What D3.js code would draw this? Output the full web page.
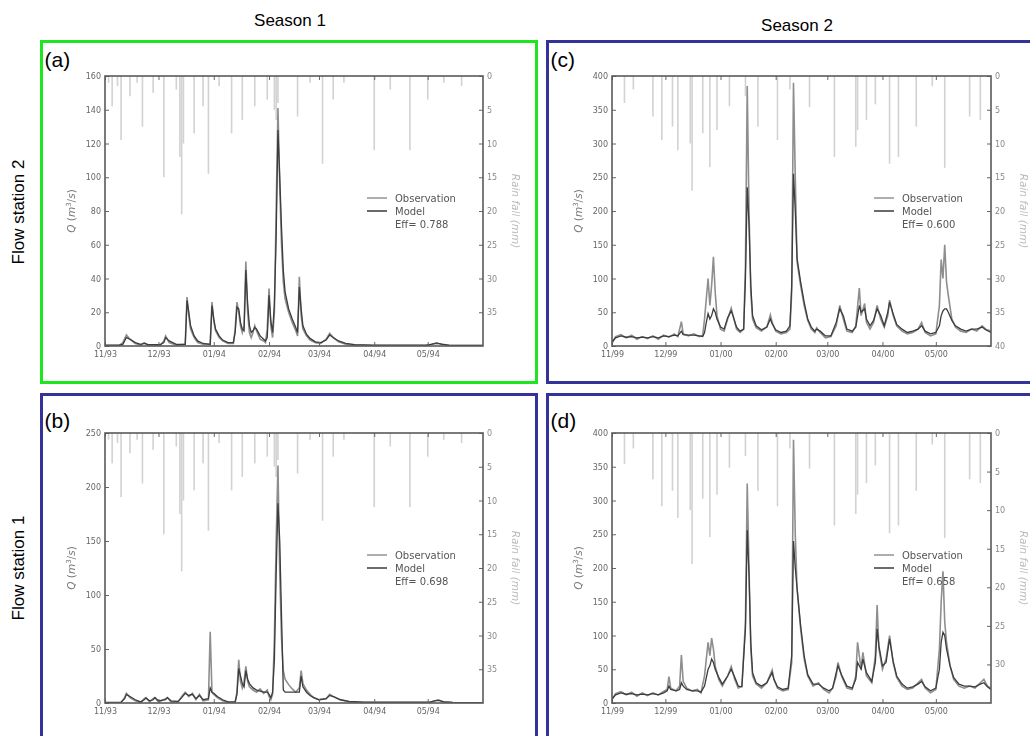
<!DOCTYPE html>
<html>
<head>
<meta charset="utf-8">
<script src="https://cdn.jsdelivr.net/npm/d3@7"></script>
<style>
  body { margin: 0; background: #fff; }
  svg { font-family: "Liberation Sans", Arial, sans-serif; }
</style>
</head>
<body>
<svg id="chart" width="1030" height="736"></svg>
<script>
// season date ranges
const season1Range = [new Date(1993, 10, 1), new Date(1994, 5, 1)];
const season2Range = [new Date(1999, 10, 1), new Date(2000, 5, 1)];

// rainfall, days after season start and mm
const rain1Day = [2, 4, 7, 9, 14, 18, 21, 27, 33, 40, 42, 43, 44, 50, 55, 58, 64, 71, 77, 84, 91, 95, 96, 97, 108, 115, 122, 128, 134, 151, 160, 171, 181, 190, 200];
const rain1Mm  = [1, 4.5, 1.5, 9.5, 3, 1, 7.5, 2.5, 15, 2, 12, 20.5, 10, 8.5, 4.5, 14.5, 1.5, 8.5, 6.5, 4.5, 3.5, 5, 6.5, 4, 6, 1, 13, 3.5, 1, 11, 2, 11, 3.5, 1, 1.5];
const rain2Day = [7, 12, 23, 28, 34, 37, 44, 45, 51, 55, 59, 66, 75, 82, 93, 100, 111, 125, 137, 138, 143, 148, 156, 161, 171, 180, 187, 201, 207];
const rain2Mm  = [4, 2, 6, 9.5, 7.5, 11, 10, 17, 8.5, 13.5, 8, 4.5, 3, 7.5, 9.5, 2, 4.6, 12, 10.5, 8, 6.5, 4.2, 13, 12, 7.5, 1.5, 13.6, 6, 6.5];

// (a) flow station 2, season 1
const aDay = [0, 8, 10, 12, 14, 17, 20, 22, 24, 31, 33, 34, 36, 40, 45, 46, 47, 48, 50, 52, 55, 59, 60, 61, 62, 64, 66, 69, 72, 73, 74, 75, 76, 77, 78, 79, 80, 81, 82, 83, 84, 85, 87, 89, 90, 91, 92, 93, 94, 95, 96, 97, 98, 99, 100, 101, 103, 105, 107, 108, 109, 110, 111, 113, 115, 118, 121, 124, 126, 128, 131, 135, 140, 150, 180, 183, 186, 189, 193, 212];
const aObs = [0.3, 0.3, 2, 6.5, 4, 1.5, 0.5, 2, 0.5, 0.5, 3, 6, 2, 0.5, 1, 29, 18, 10, 5, 2, 1, 1, 26, 15, 9, 5, 3, 1.5, 1.5, 10, 26, 20, 12, 8, 12, 50, 20, 8, 5, 8, 12, 9, 4, 3, 2, 10, 34, 12, 5, 20, 80, 141, 95, 60, 38, 28, 20, 14, 9, 6, 41, 18, 10, 6, 3.5, 2, 1.5, 4, 7.5, 5, 2.5, 1, 0.5, 0.3, 0.3, 1, 1.5, 1.2, 0.3, 0.3];
const aMod = [0.5, 0.5, 1, 5, 4, 2, 1, 1.5, 1, 0.8, 2, 5, 3, 1, 1, 27, 20, 12, 6, 3, 1.5, 1, 24, 16, 10, 6, 3.5, 2, 2, 8, 23, 22, 14, 10, 9, 45, 25, 12, 8, 9, 11, 10, 6, 4, 3, 5, 30, 15, 8, 25, 65, 128, 100, 70, 45, 32, 22, 16, 11, 8, 35, 22, 12, 7, 4.5, 2.5, 2, 3.5, 6.5, 5, 3, 1.5, 0.8, 0.5, 0.5, 1, 1.8, 1, 0.5, 0.3];

// (b) flow station 1, season 1
const bDay = [0, 9, 11, 12, 14, 17, 20, 22, 23, 25, 27, 28, 30, 34, 35, 37, 41, 43, 45, 47, 49, 51, 53, 55, 58, 59, 60, 61, 63, 66, 69, 73, 74, 75, 76, 77, 78, 79, 80, 81, 83, 85, 87, 89, 91, 92, 93, 94, 95, 96, 97, 98, 99, 100, 101, 103, 105, 107, 109, 110, 111, 113, 115, 117, 120, 124, 126, 128, 132, 137, 145, 182, 185, 187, 190, 195, 212];
const bObs = [0.3, 0.5, 5, 9, 5, 2, 0.5, 4, 5, 1, 4, 5, 1, 4, 5, 1, 1, 6, 10, 6, 9, 3, 8, 2, 3, 66, 10, 8, 5, 2, 0.5, 0.5, 10, 40, 20, 14, 20, 34, 20, 15, 12, 10, 13, 9, 12, 6, 3, 8, 60, 150, 220, 120, 60, 30, 22, 17, 13, 10, 14, 30, 18, 12, 8, 5, 3, 4, 8, 6, 3, 1, 0.5, 0.5, 2, 3, 1, 0.5, 0.3];
const bMod = [0.5, 0.8, 4, 8, 6, 3, 1, 3, 4.5, 2, 3, 5, 2, 3, 5, 2, 1.5, 5, 9, 7, 8, 4, 7, 3, 4, 14, 10, 9, 6, 3, 1, 1, 8, 32, 25, 18, 15, 30, 22, 18, 14, 12, 11, 10, 10, 8, 5, 10, 40, 120, 185, 150, 80, 12, 10, 10, 10, 10, 10, 25, 15, 10, 7, 5, 3, 4, 7, 6, 3, 1.5, 0.8, 0.8, 2, 2.5, 1, 0.5, 0.3];

// (c) flow station 2, season 2
const cDay = [0, 2, 5, 8, 11, 14, 17, 20, 23, 26, 29, 32, 35, 37, 39, 40, 43, 46, 49, 51, 52, 53, 54, 55, 56, 57, 58, 59, 61, 63, 65, 67, 68, 70, 72, 74, 75, 76, 77, 78, 79, 81, 84, 87, 89, 90, 92, 95, 98, 100, 101, 102, 103, 104, 106, 108, 110, 112, 114, 115, 117, 120, 123, 126, 128, 130, 132, 135, 137, 139, 140, 142, 143, 145, 147, 149, 151, 153, 155, 156, 158, 160, 163, 166, 169, 172, 174, 176, 179, 182, 184, 185, 186, 187, 188, 189, 191, 193, 196, 199, 202, 205, 208, 210, 213];
const cObs = [4, 14, 17, 12, 16, 10, 14, 11, 15, 10, 16, 13, 18, 14, 36, 18, 15, 18, 14, 16, 40, 70, 100, 60, 90, 132, 80, 45, 25, 22, 40, 56, 45, 25, 20, 25, 120, 385, 200, 80, 40, 27, 22, 28, 46, 35, 22, 18, 20, 25, 80, 390, 250, 125, 90, 60, 38, 25, 20, 27, 20, 12, 14, 30, 60, 40, 22, 20, 30, 86, 45, 63, 35, 25, 35, 60, 40, 28, 45, 68, 45, 30, 22, 18, 20, 25, 35, 20, 15, 18, 60, 128, 100, 150, 95, 75, 40, 28, 22, 20, 25, 22, 30, 25, 22];
const cMod = [6, 12, 15, 13, 14, 12, 13, 12, 14, 12, 15, 14, 16, 15, 22, 17, 16, 16, 15, 14, 20, 35, 48, 40, 45, 55, 50, 40, 28, 25, 42, 52, 45, 28, 22, 25, 100, 235, 180, 90, 45, 30, 24, 28, 40, 33, 24, 20, 22, 30, 90, 255, 200, 130, 95, 65, 40, 28, 22, 25, 22, 15, 15, 35, 55, 45, 25, 22, 28, 60, 50, 55, 40, 30, 38, 55, 45, 30, 50, 65, 48, 32, 25, 20, 22, 25, 30, 22, 18, 20, 30, 45, 52, 55, 55, 50, 38, 30, 25, 22, 25, 25, 28, 24, 20];

// (d) flow station 1, season 2
const dDay = [0, 2, 5, 8, 11, 14, 17, 20, 23, 26, 29, 31, 32, 33, 36, 38, 39, 40, 42, 45, 48, 50, 52, 54, 55, 56, 57, 58, 60, 62, 65, 67, 69, 71, 73, 75, 76, 77, 78, 79, 81, 84, 87, 90, 91, 93, 96, 99, 101, 102, 103, 104, 106, 108, 110, 113, 116, 119, 122, 124, 126, 127, 129, 132, 135, 137, 138, 140, 141, 143, 146, 148, 149, 150, 152, 154, 156, 158, 160, 163, 166, 169, 172, 174, 176, 179, 182, 184, 185, 186, 187, 188, 190, 192, 195, 198, 201, 204, 207, 209, 211, 213];
const dObs = [5, 14, 17, 12, 16, 10, 15, 11, 15, 12, 17, 20, 39, 22, 18, 25, 71, 32, 22, 18, 20, 15, 40, 90, 70, 96, 80, 55, 35, 25, 40, 54, 35, 22, 25, 120, 325, 200, 80, 40, 28, 22, 30, 49, 35, 22, 18, 20, 60, 390, 250, 170, 110, 65, 40, 25, 30, 20, 15, 22, 40, 60, 40, 22, 20, 40, 90, 50, 75, 40, 30, 70, 145, 80, 50, 65, 100, 60, 38, 25, 20, 22, 30, 35, 22, 15, 20, 80, 150, 195, 120, 90, 55, 35, 25, 22, 25, 22, 30, 35, 25, 22];
const dMod = [6, 12, 15, 13, 14, 12, 13, 12, 14, 12, 15, 18, 25, 20, 18, 20, 30, 25, 20, 18, 18, 16, 25, 50, 55, 65, 60, 50, 38, 28, 40, 50, 38, 25, 24, 110, 256, 190, 90, 45, 30, 25, 30, 45, 35, 24, 20, 22, 70, 240, 200, 170, 115, 70, 42, 28, 28, 22, 18, 22, 45, 55, 42, 25, 22, 35, 60, 50, 65, 45, 32, 60, 110, 85, 55, 60, 95, 62, 40, 28, 22, 24, 28, 32, 24, 18, 22, 50, 90, 105, 100, 80, 55, 38, 28, 25, 25, 24, 28, 30, 24, 20];

// axis ticks
const q1Ticks = [0, 20, 40, 60, 80, 100, 120, 140, 160];
const q2Ticks = [0, 50, 100, 150, 200, 250];
const q3Ticks = [0, 50, 100, 150, 200, 250, 300, 350, 400];
const rainTicks35 = [0, 5, 10, 15, 20, 25, 30, 35];
const rainTicks40 = [0, 5, 10, 15, 20, 25, 30, 35, 40];
const rainTicks30 = [0, 5, 10, 15, 20, 25, 30];
const effValues = ['0.788', '0.698', '0.600', '0.658'];

const panels = [
  {label: '(a)', labelDy: -9, box: [41.5, 41.5, 495, 341], color: '#1ee61e', l: 105, t: 76, r: 483, b: 346,
   range: season1Range, day: aDay, obs: aObs, mod: aMod, rainDay: rain1Day, rainMm: rain1Mm,
   qMax: 160, qTicks: q1Ticks, rainMax: 40, rainTicks: rainTicks35, eff: effValues[0]},
  {label: '(b)', labelDy: -5, box: [41.5, 394.5, 495, 350], color: '#33339a', l: 105, t: 433, r: 483, b: 703,
   range: season1Range, day: bDay, obs: bObs, mod: bMod, rainDay: rain1Day, rainMm: rain1Mm,
   qMax: 250, qTicks: q2Ticks, rainMax: 40, rainTicks: rainTicks35, eff: effValues[1]},
  {label: '(c)', labelDy: -9, box: [547.5, 41.5, 500, 341], color: '#33339a', l: 612, t: 76, r: 991, b: 346,
   range: season2Range, day: cDay, obs: cObs, mod: cMod, rainDay: rain2Day, rainMm: rain2Mm,
   qMax: 400, qTicks: q3Ticks, rainMax: 40, rainTicks: rainTicks40, eff: effValues[2]},
  {label: '(d)', labelDy: -5, box: [547.5, 394.5, 500, 350], color: '#33339a', l: 612, t: 433, r: 991, b: 703,
   range: season2Range, day: dDay, obs: dObs, mod: dMod, rainDay: rain2Day, rainMm: rain2Mm,
   qMax: 400, qTicks: q3Ticks, rainMax: 35, rainTicks: rainTicks30, eff: effValues[3]}
];

const svg = d3.select('#chart');

svg.append('defs').append('filter').attr('id', 'soft')
  .append('feGaussianBlur').attr('stdDeviation', 0.35);

function dayToDate(start, n) {
  return d3.timeDay.offset(start, n);
}

function drawPanel(p, idx) {
  // coloured frame round each panel
  svg.append('rect')
    .attr('x', p.box[0]).attr('y', p.box[1])
    .attr('width', p.box[2]).attr('height', p.box[3])
    .attr('fill', 'none').attr('stroke', p.color).attr('stroke-width', 3);

  svg.append('text')
    .attr('x', p.box[0] + 3).attr('y', p.t + p.labelDy)
    .style('font-size', '21px').attr('fill', '#000')
    .text(p.label);

  const g = svg.append('g').attr('filter', 'url(#soft)');

  const x = d3.scaleTime().domain(p.range).range([p.l, p.r]);
  const y = d3.scaleLinear().domain([0, p.qMax]).range([p.b, p.t]);
  const yRain = d3.scaleLinear().domain([0, p.rainMax]).range([p.t, p.b]);

  const clipId = 'clip' + idx;
  svg.select('defs').append('clipPath').attr('id', clipId)
    .append('rect').attr('x', p.l).attr('y', p.t).attr('width', p.r - p.l).attr('height', p.b - p.t);

  // rainfall hangs from the top
  const rain = p.rainDay.map((d, i) => ({date: dayToDate(p.range[0], d), mm: p.rainMm[i]}));
  g.append('g').attr('clip-path', `url(#${clipId})`)
    .selectAll('rect')
    .data(rain)
    .join('rect')
    .attr('x', d => x(d.date) - 0.8)
    .attr('y', p.t)
    .attr('width', 1.6)
    .attr('height', d => yRain(d.mm) - p.t)
    .attr('fill', '#d2d2d2');

  const line = d3.line()
    .x(d => x(d.date))
    .y(d => y(d.q));

  const obs = p.day.map((d, i) => ({date: dayToDate(p.range[0], d), q: p.obs[i]}));
  const mod = p.day.map((d, i) => ({date: dayToDate(p.range[0], d), q: p.mod[i]}));

  const lines = g.append('g').attr('clip-path', `url(#${clipId})`);
  lines.append('path').datum(obs)
    .attr('d', line).attr('fill', 'none')
    .attr('stroke', '#8e8e8e').attr('stroke-width', 1.6);
  lines.append('path').datum(mod)
    .attr('d', line).attr('fill', 'none')
    .attr('stroke', '#3c3c3c').attr('stroke-width', 1.3);

  // axes
  const months = d3.timeMonth.range(p.range[0], p.range[1]);
  const fmt = d3.timeFormat('%m/%y');

  const styleAxis = sel => {
    sel.select('.domain').remove();
    sel.selectAll('line').attr('stroke', '#666');
    sel.selectAll('text').attr('fill', '#666').style('font-family', 'DejaVu Sans, sans-serif').style('font-size', '8px');
  };

  g.append('g').attr('transform', `translate(${p.l},0)`)
    .call(d3.axisLeft(y).tickValues(p.qTicks).tickSize(-4).tickPadding(4))
    .call(styleAxis);

  g.append('g').attr('transform', `translate(${p.r},0)`)
    .call(d3.axisRight(yRain).tickValues(p.rainTicks).tickSize(-4).tickPadding(4))
    .call(styleAxis)
    .selectAll('text').attr('fill', '#888');

  g.append('g').attr('transform', `translate(0,${p.b})`)
    .call(d3.axisBottom(x).tickValues(months).tickFormat(fmt).tickSize(-4).tickPadding(5))
    .call(styleAxis);

  g.append('g').attr('transform', `translate(0,${p.t})`)
    .call(d3.axisTop(x).tickValues(months).tickFormat('').tickSize(-4))
    .call(styleAxis);

  g.append('rect')
    .attr('x', p.l).attr('y', p.t)
    .attr('width', p.r - p.l).attr('height', p.b - p.t)
    .attr('fill', 'none').attr('stroke', '#5a5a5a').attr('stroke-width', 1.6);

  // axis titles
  const midY = (p.t + p.b) / 2;
  const qLabel = g.append('text')
    .attr('transform', `translate(${p.l - 30},${midY}) rotate(-90)`)
    .attr('text-anchor', 'middle')
    .attr('fill', '#777')
    .style('font-family', 'DejaVu Sans, sans-serif')
    .style('font-size', '10.5px');
  qLabel.append('tspan').style('font-style', 'italic').text('Q');
  qLabel.append('tspan').text(' (');
  qLabel.append('tspan').style('font-style', 'italic').text('m');
  qLabel.append('tspan').attr('dy', -4).style('font-size', '7px').text('3');
  qLabel.append('tspan').attr('dy', 4).text('/');
  qLabel.append('tspan').style('font-style', 'italic').text('s');
  qLabel.append('tspan').text(')');

  g.append('text')
    .attr('transform', `translate(${p.r + 29},${midY}) rotate(90)`)
    .attr('text-anchor', 'middle')
    .attr('fill', '#bbb')
    .style('font-family', 'DejaVu Sans, sans-serif')
    .style('font-style', 'italic')
    .style('font-size', '10.5px')
    .text('Rain fall (mm)');

  // legend
  const lx = p.l + 262, ly = p.t + 122;
  const legend = g.append('g').style('font-family', 'DejaVu Sans, sans-serif').style('font-size', '10px');
  legend.append('line').attr('x1', lx).attr('x2', lx + 20).attr('y1', ly).attr('y2', ly)
    .attr('stroke', '#9a9a9a').attr('stroke-width', 1.6);
  legend.append('line').attr('x1', lx).attr('x2', lx + 20).attr('y1', ly + 13).attr('y2', ly + 13)
    .attr('stroke', '#444').attr('stroke-width', 1.6);
  legend.append('text').attr('x', lx + 28).attr('y', ly + 3.5).attr('fill', '#555').text('Observation');
  legend.append('text').attr('x', lx + 28).attr('y', ly + 16.5).attr('fill', '#555').text('Model');
  legend.append('text').attr('x', lx + 28).attr('y', ly + 29.5).attr('fill', '#555').text('Eff= ' + p.eff);
}

panels.forEach(drawPanel);

// row and column headings
svg.append('text').attr('x', 290).attr('y', 26).attr('text-anchor', 'middle')
  .style('font-size', '17px').text('Season 1');
svg.append('text').attr('x', 797).attr('y', 31).attr('text-anchor', 'middle')
  .style('font-size', '17px').text('Season 2');
svg.append('text').attr('transform', 'translate(24,212) rotate(-90)').attr('text-anchor', 'middle')
  .style('font-size', '17px').text('Flow station 2');
svg.append('text').attr('transform', 'translate(24,568) rotate(-90)').attr('text-anchor', 'middle')
  .style('font-size', '17px').text('Flow station 1');
</script>
</body>
</html>
